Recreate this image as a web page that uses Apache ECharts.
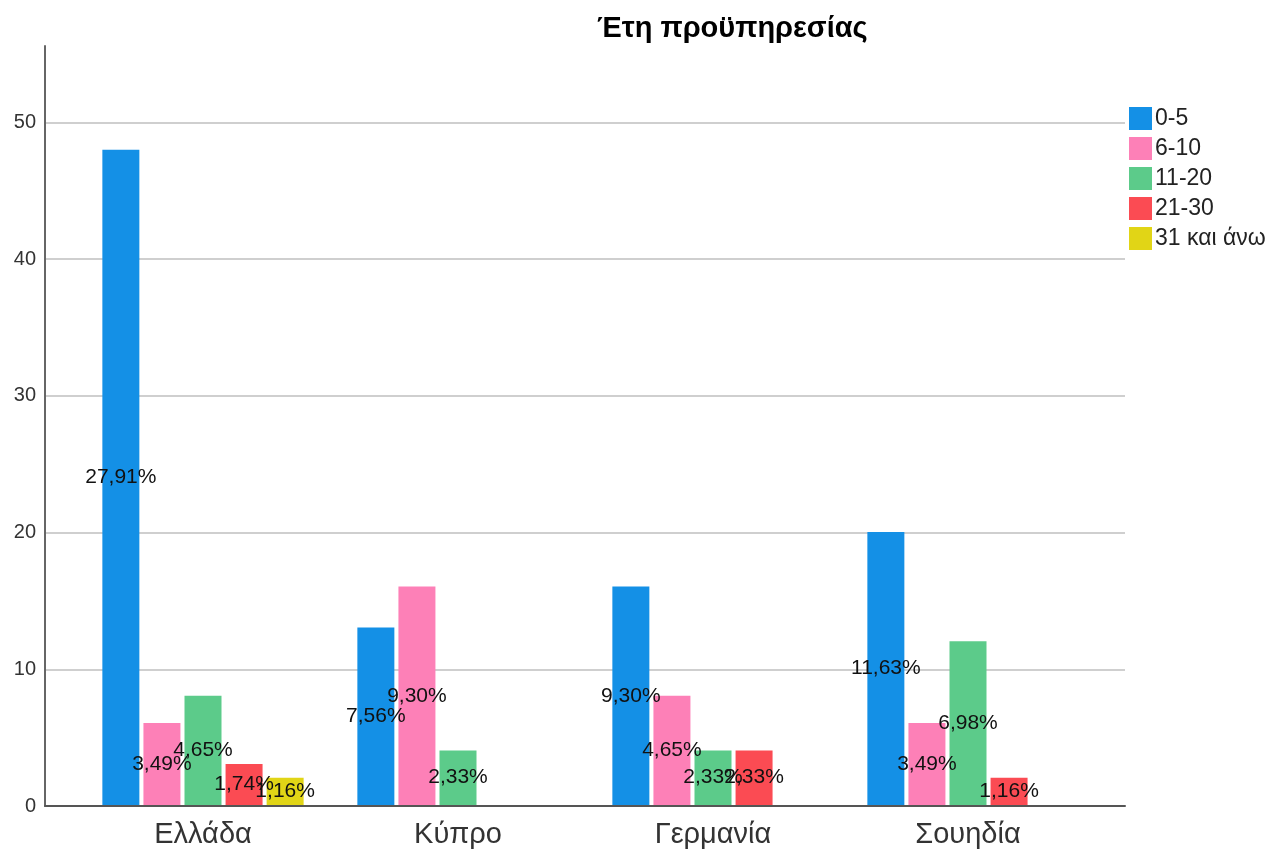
<!DOCTYPE html>
<html><head><meta charset="utf-8">
<script src="https://cdn.jsdelivr.net/npm/echarts@6/dist/echarts.min.js"></script>
<style>html,body{margin:0;padding:0;background:#fff}#c{width:1275px;height:849px}</style>
</head><body><div id="c"></div>
<script>
const categories = ['Ελλάδα', 'Κύπρο', 'Γερμανία', 'Σουηδία'];
const seriesNames = ['0-5', '6-10', '11-20', '21-30', '31 και άνω'];
const s0_5 = [48, 13, 16, 20];
const s6_10 = [6, 16, 8, 6];
const s11_20 = [8, 4, 4, 12];
const s21_30 = [3, 0, 4, 2];
const s31 = [2, 0, 0, 0];
const yTicks = [0, 10, 20, 30, 40, 50];
const colors = ['#1490e6', '#fd80b7', '#5ccb8a', '#fb4b53', '#e1d516'];

const allSeries = [s0_5, s6_10, s11_20, s21_30, s31];
const total = allSeries.reduce((a, s) => a + s.reduce((b, v) => b + v, 0), 0);

const chart = echarts.init(document.getElementById('c'));
const FONT = 'Liberation Sans, Arial, sans-serif';
const yMax = 55.6;

chart.setOption({
  animation: false,
  title: {
    text: 'Έτη προϋπηρεσίας', left: 592, top: 9,
    textStyle: { fontFamily: FONT, fontWeight: 'bold', fontSize: 29, color: '#000' }
  },
  legend: {
    orient: 'vertical', left: 1129, top: 107, padding: 0,
    itemWidth: 23, itemHeight: 23, itemGap: 7, icon: 'rect',
    data: seriesNames,
    textStyle: { fontFamily: FONT, fontSize: 23, color: '#222', padding: [0, 0, 0, -2] }
  },
  grid: [
    { left: 45, right: 150, top: 46, bottom: 43 },
    { left: 75.5, right: 179.5, top: 46, bottom: 43 }
  ],
  xAxis: [
    { type: 'category', gridIndex: 0, data: categories,
      axisLine: { lineStyle: { color: '#555', width: 2 } },
      axisTick: { show: false }, axisLabel: { show: false } },
    { type: 'category', gridIndex: 1, data: categories,
      axisLine: { show: false }, axisTick: { show: false },
      axisLabel: { fontFamily: FONT, fontSize: 29, color: '#333', margin: 15 } }
  ],
  yAxis: [
    { type: 'value', gridIndex: 0, min: 0, max: yMax, interval: 10,
      axisLine: { show: true, lineStyle: { color: '#666', width: 2 } },
      axisTick: { show: false },
      axisLabel: { fontFamily: FONT, fontSize: 20, color: '#333', margin: 9, showMaxLabel: false },
      splitLine: { show: true, lineStyle: { color: ['#cfcfcf','#cfcfcf','#cfcfcf','#cfcfcf','#cfcfcf','#cfcfcf','rgba(0,0,0,0)'], width: 2 } }
    },
    { type: 'value', gridIndex: 1, min: 0, max: yMax, interval: 10, show: false,
      splitLine: { show: false } }
  ],
  series: allSeries.map((data, i) => ({
    name: seriesNames[i], type: 'bar', xAxisIndex: 1, yAxisIndex: 1,
    data: data, barWidth: 37, barGap: '11%',
    itemStyle: { color: colors[i] },
    label: {
      show: true, position: 'inside', color: '#111',
      fontFamily: FONT, fontSize: 21,
      formatter: p => p.value ? (p.value / total * 100).toFixed(2).replace('.', ',') + '%' : ''
    }
  }))
});
</script></body></html>
